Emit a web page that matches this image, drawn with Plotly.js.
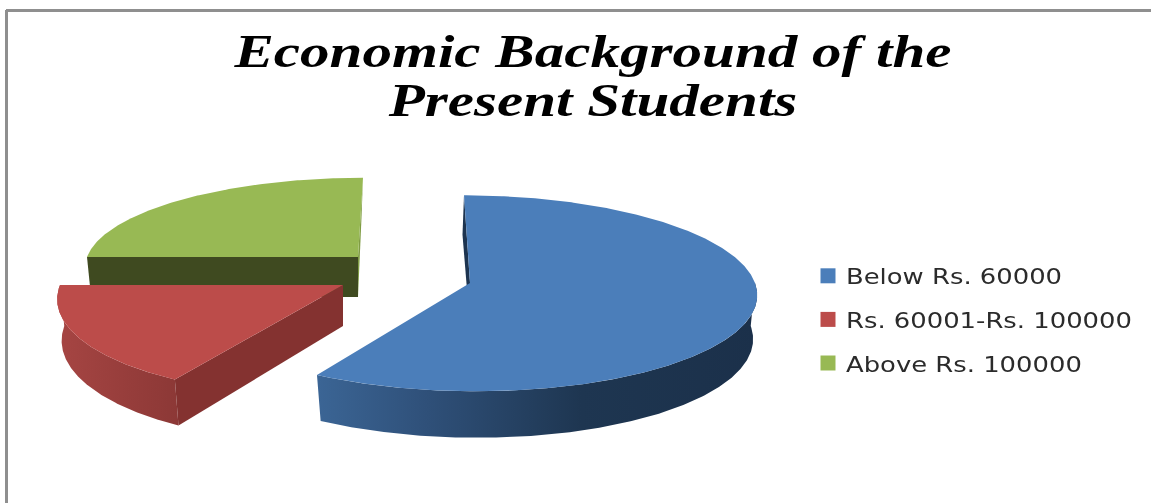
<!DOCTYPE html>
<html><head><meta charset="utf-8">
<script src="https://cdn.plot.ly/plotly-3.0.0.min.js"></script>
<style>html,body{margin:0;padding:0;background:#fff}#c{width:1151px;height:503px;filter:blur(0.5px)}</style>
</head><body><div id="c"></div>
<script>
// ---- data ----
const categories = ["Below Rs. 60000", "Rs. 60001-Rs. 100000", "Above Rs. 100000"];
const shares = [58.5, 16.5, 25];
const titleText = "Economic Background of the<br>Present Students";

// ---- styling ----
const topColors = ["#4B7EBA", "#BC4C4A", "#98B954"];
const frameColor = "#8f8f8f";
// projection of each exploded slice (pixel-scale axes)
const proj = [
  {cx:470, cy:283, rx:285, ry:98,  k:0.105, sh:6,   d:43, dk:0.08},
  {cx:343, cy:285, rx:283, ry:102, k:0.09,  sh:-15, d:41, dk:0.14},
  {cx:358, cy:257, rx:271, ry:88,  k:0.10,  sh:-5,  d:40, dk:0.0}
];

const total = shares.reduce((a,b)=>a+b,0);
const rad = d => d*Math.PI/180;
function pt(p, tDeg, bottom){
  const u = Math.sin(rad(tDeg)), v = -Math.cos(rad(tDeg)), s = 1+p.k*v;
  const f = bottom ? 0.985 : 1, sh = bottom ? p.sh+1.5 : p.sh;
  return [p.cx + sh*v + p.rx*u*s*f,
          p.cy + p.ry*v*s + (bottom ? p.d*(1+p.dk*v) : 0)];
}
function arc(p, a, b, bottom){
  const out=[], n=Math.max(2,Math.round(Math.abs(b-a)*2));
  for(let i=0;i<=n;i++) out.push(pt(p,a+(b-a)*i/n,bottom));
  return out;
}
function apex(p,bottom){ return [p.cx, p.cy+(bottom?p.d:0)]; }
function poly(points, opt){
  const t = {type:"scatter", mode:"lines", x:points.map(q=>q[0]), y:points.map(q=>q[1]),
    fill:"toself", line:{width:0}, showlegend:false, hoverinfo:"skip"};
  return Object.assign(t,opt);
}
// slice angle ranges, clockwise from the back of the pie
let acc=0;
const ranges = shares.map(v=>{const a=acc; acc+=v/total*360; return [a,acc];});

const traces=[];
// Green (back)
{
  const p=proj[2],[a,b]=ranges[2];
  traces.push(poly([pt(p,b),apex(p),apex(p,true),pt(p,b,true)],{fillcolor:"#7F9C43"}));
  traces.push(poly([apex(p),pt(p,a),pt(p,a,true),apex(p,true)],{fillcolor:"#3F4A20"}));
  traces.push(poly([apex(p),...arc(p,a,b)],{fillcolor:topColors[2],name:categories[2]}));
}
// Red
{
  const p=proj[1],[a,b]=ranges[1];
  const outer=[...arc(p,a,b),...arc(p,b,a,true)];
  traces.push(poly(outer,{fillcolor:"#8f3a38",fillgradient:{type:"horizontal",colorscale:[[0,"#A64543"],[0.45,"#9A3F3D"],[1,"#8C3836"]]}}));
  traces.push(poly([apex(p),pt(p,a),pt(p,a,true),apex(p,true)],{fillcolor:"#843230"}));
  traces.push(poly([apex(p),...arc(p,a,b)],{fillcolor:topColors[1],name:categories[1]}));
}
// Blue
{
  const p=proj[0],[a,b]=ranges[0];
  traces.push(poly([pt(p,a),apex(p),apex(p,true),pt(p,a,true)],{fillcolor:"#1D3450"}));
  const outer=[...arc(p,90,b),...arc(p,b,90,true)];
  traces.push(poly(outer,{fillcolor:"#264468",fillgradient:{type:"horizontal",colorscale:[[0,"#3B6595"],[0.25,"#2F5079"],[0.6,"#1E3651"],[1,"#1B304A"]]}}));
  traces.push(poly([apex(p),...arc(p,a,b)],{fillcolor:topColors[0],name:categories[0]}));
}
// Legend entries
categories.forEach((c,i)=>traces.push({type:"scatter",mode:"markers",x:[null],y:[null],name:c,
  marker:{symbol:"square",size:15,color:topColors[i]},legendgroup:"g"+i,showlegend:true}));

const layout={
  width:1151,height:503,margin:{l:0,r:0,t:0,b:0},
  paper_bgcolor:"#fff",plot_bgcolor:"#fff",
  xaxis:{range:[0,1151],visible:false,fixedrange:true},
  yaxis:{range:[503,0],visible:false,fixedrange:true},
  title:{text:titleText,x:593/1151,xanchor:"center",y:1-67/503,yanchor:"top",
    font:{family:"Liberation Serif",size:47,color:"#000",weight:700,style:"italic"}},
  legend:{x:808/1151,y:1-255/503,xanchor:"left",yanchor:"top",bgcolor:"rgba(0,0,0,0)",
    tracegroupgap:12,font:{family:"DejaVu Sans",size:22,color:"#2b2b2b"}},
  shapes:[
    {type:"line",xref:"x",yref:"y",x0:6,x1:1151,y0:10.5,y1:10.5,line:{color:frameColor,width:3}},
    {type:"line",xref:"x",yref:"y",x0:6.5,x1:6.5,y0:10,y1:503,line:{color:frameColor,width:3}}
  ],
  showlegend:true
};
Plotly.newPlot("c",traces,layout,{displayModeBar:false,staticPlot:true}).then(()=>{
  // the reference's text is horizontally stretched
  const title=document.querySelector(".gtitle");
  title.querySelectorAll("tspan.line").forEach((t,i)=>{ if(i>0) t.setAttribute("dy","49px"); });
  title.setAttribute("transform","translate(593,0) scale(1.257,1) translate(-593,0)");
  document.querySelectorAll(".legend .scrollbox").forEach(g=>g.removeAttribute("clip-path"));
  document.querySelectorAll(".legendtext").forEach(t=>{
    const x=parseFloat(t.getAttribute("x"))||0;
    t.setAttribute("transform","translate("+(x-2)+",0) scale(1.175,1) translate("+(-x)+",0)");
  });
});
</script></body></html>
